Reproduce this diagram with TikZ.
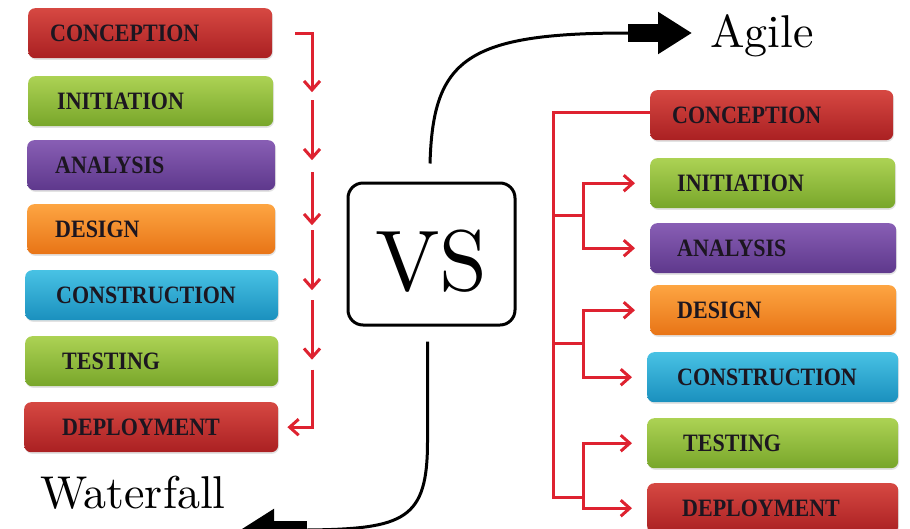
\documentclass[tikz,border=0pt]{standalone}
\usepackage{fontspec}
\newfontfamily\phasefont{Liberation Serif}[FakeStretch=0.88]
\newfontfamily\bigserif{lmroman10-regular}[Extension=.otf]
\usetikzlibrary{arrows.meta,shadows,calc}

% box shadings
\definecolor{redTop}{RGB}{214,72,66}
\definecolor{redBot}{RGB}{170,32,34}
\definecolor{greenTop}{RGB}{172,210,84}
\definecolor{greenBot}{RGB}{120,166,42}
\definecolor{purpleTop}{RGB}{136,94,180}
\definecolor{purpleBot}{RGB}{94,56,140}
\definecolor{orangeTop}{RGB}{253,165,66}
\definecolor{orangeBot}{RGB}{232,116,22}
\definecolor{blueTop}{RGB}{72,194,228}
\definecolor{blueBot}{RGB}{26,144,190}
\definecolor{flowRed}{RGB}{222,34,48}
\definecolor{ink}{RGB}{28,22,32}

\begin{document}
\begin{tikzpicture}[x=1pt, y=-1pt,
  >={Straight Barb[length=9pt,width=16pt]},
  phase/.style 2 args={rounded corners=7pt, anchor=north west,
    minimum height=50pt, inner xsep=0pt, text width=#1, align=left,
    execute at begin node={\hspace*{#2}},
    font=\phasefont\bfseries\fontsize{25}{25}\selectfont, text=ink,
    text height=16.5pt, text depth=0pt,
    drop shadow={opacity=0.22, shadow xshift=0.8pt, shadow yshift=-1.6pt}},
  redbox/.style={top color=redTop, bottom color=redBot},
  greenbox/.style={top color=greenTop, bottom color=greenBot},
  purplebox/.style={top color=purpleTop, bottom color=purpleBot},
  orangebox/.style={top color=orangeTop, bottom color=orangeBot},
  bluebox/.style={top color=blueTop, bottom color=blueBot},
  flow/.style={draw=flowRed, line width=3pt},
  swoop/.style={draw=black, line width=3pt},
  block/.style={draw=black, line width=18pt, -{Triangle[length=34pt,width=40pt]}},
  title/.style={anchor=base west, inner sep=0pt, font=\bigserif\fontsize{46}{46}\selectfont}
]
\useasboundingbox (0,0) rectangle (910,528);

% ---------- Waterfall column ----------
\node[phase={244pt}{22pt}, redbox]    (L1) at (28,8)   {CONCEPTION};
\node[phase={245pt}{29pt}, greenbox]  (L2) at (28,76)  {INITIATION};
\node[phase={248pt}{28pt}, purplebox] (L3) at (27,140) {ANALYSIS};
\node[phase={248pt}{28pt}, orangebox] (L4) at (27,204) {DESIGN};
\node[phase={253pt}{31pt}, bluebox]   (L5) at (25,270) {CONSTRUCTION};
\node[phase={253pt}{37pt}, greenbox]  (L6) at (25,336) {TESTING};
\node[phase={254pt}{38pt}, redbox]    (L7) at (24,402) {DEPLOYMENT};

\coordinate (rail) at (312,0);
\draw[flow, ->] ($(L1.east)+(23,0)$) -| ($(L2.east -| rail)+(0,-9)$);
\draw[flow, ->] ($(L2.east -| rail)+(0,-1)$) -- ($(L3.east -| rail)+(0,-5)$);
\draw[flow, ->] ($(L3.east -| rail)+(0,7)$) -- ($(L4.east -| rail)+(0,-4)$);
\draw[flow, ->] ($(L4.east -| rail)+(0,1)$) -- ($(L5.east -| rail)+(0,-5)$);
\draw[flow, ->] ($(L5.east -| rail)+(0,5)$) -- ($(L6.east -| rail)+(0,-1.5)$);
\draw[flow, ->] ($(L6.east -| rail)+(0,8.5)$) |- ($(L7.east)+(9,0)$);

% ---------- Agile column ----------
\node[phase={243pt}{22pt}, redbox]    (R1) at (650,90)  {CONCEPTION};
\node[phase={245pt}{27pt}, greenbox]  (R2) at (650,158) {INITIATION};
\node[phase={246pt}{27pt}, purplebox] (R3) at (650,223) {ANALYSIS};
\node[phase={246pt}{27pt}, orangebox] (R4) at (650,285) {DESIGN};
\node[phase={251pt}{30pt}, bluebox]   (R5) at (647,352) {CONSTRUCTION};
\node[phase={251pt}{36pt}, greenbox]  (R6) at (647,418) {TESTING};
\node[phase={251pt}{35pt}, redbox]    (R7) at (647,483) {DEPLOYMENT};

\coordinate (trunk) at (553,0);
\coordinate (fork)  at (583,0);
\coordinate (jA) at ($(R2.west)!0.5!(R3.west)$);
\coordinate (jB) at ($(R4.west)!0.5!(R5.west)$);
\coordinate (jC) at ($(R7.west)+(0,-11)$);

\draw[flow] ($(R1.west)+(0,-3)$) -| (jC -| trunk) -- (jC -| fork);
\draw[flow] (jA -| trunk) -- (jA -| fork);
\draw[flow] (jB -| trunk) -- (jB -| fork);
\draw[flow, <->, shorten <=15pt, shorten >=15pt] (R2.west) -| (jA -| fork) |- (R3.west);
\draw[flow, <->, shorten <=15pt, shorten >=15pt] (R4.west) -| (jB -| fork) |- (R5.west);
\draw[flow, <->, shorten <=15pt, shorten >=15pt] (R6.west) -| (jC -| fork) |- (R7.west);

% ---------- centre ----------
\node[draw=black, line width=3pt, rounded corners=15pt,
      minimum width=167pt, minimum height=142pt, inner sep=0pt,
      font=\bigserif\fontsize{86}{86}\selectfont, text height=72pt, text depth=0pt]
      (vs) at (431.5,254) {VS};

\node[title] (agile) at (710,47) {Agile};
\node[title] (waterfall) at (40,508) {Waterfall};

\coordinate (vsTop)     at ($(vs.north)+(-1.5,-18)$);
\coordinate (agileTail) at (628,33);
\coordinate (agileTip)  at ($(agile.base west)+(-18,-14)$);
\draw[swoop] (vsTop) .. controls (433,60) and (465,33) .. (agileTail);
\draw[block] (agileTail) -- (agileTip);

\coordinate (vsBot)     at ($(vs.south)+(-4,15)$);
\coordinate (fallTail)  at (307,530);
\coordinate (fallTip)   at (240,530);
\draw[swoop] (vsBot) -- ($(vsBot)+(0,100)$) .. controls ($(vsBot)+(0,178)$) and (405,529) .. (fallTail);
\draw[block] (fallTail) -- (fallTip);
\end{tikzpicture}
\end{document}
